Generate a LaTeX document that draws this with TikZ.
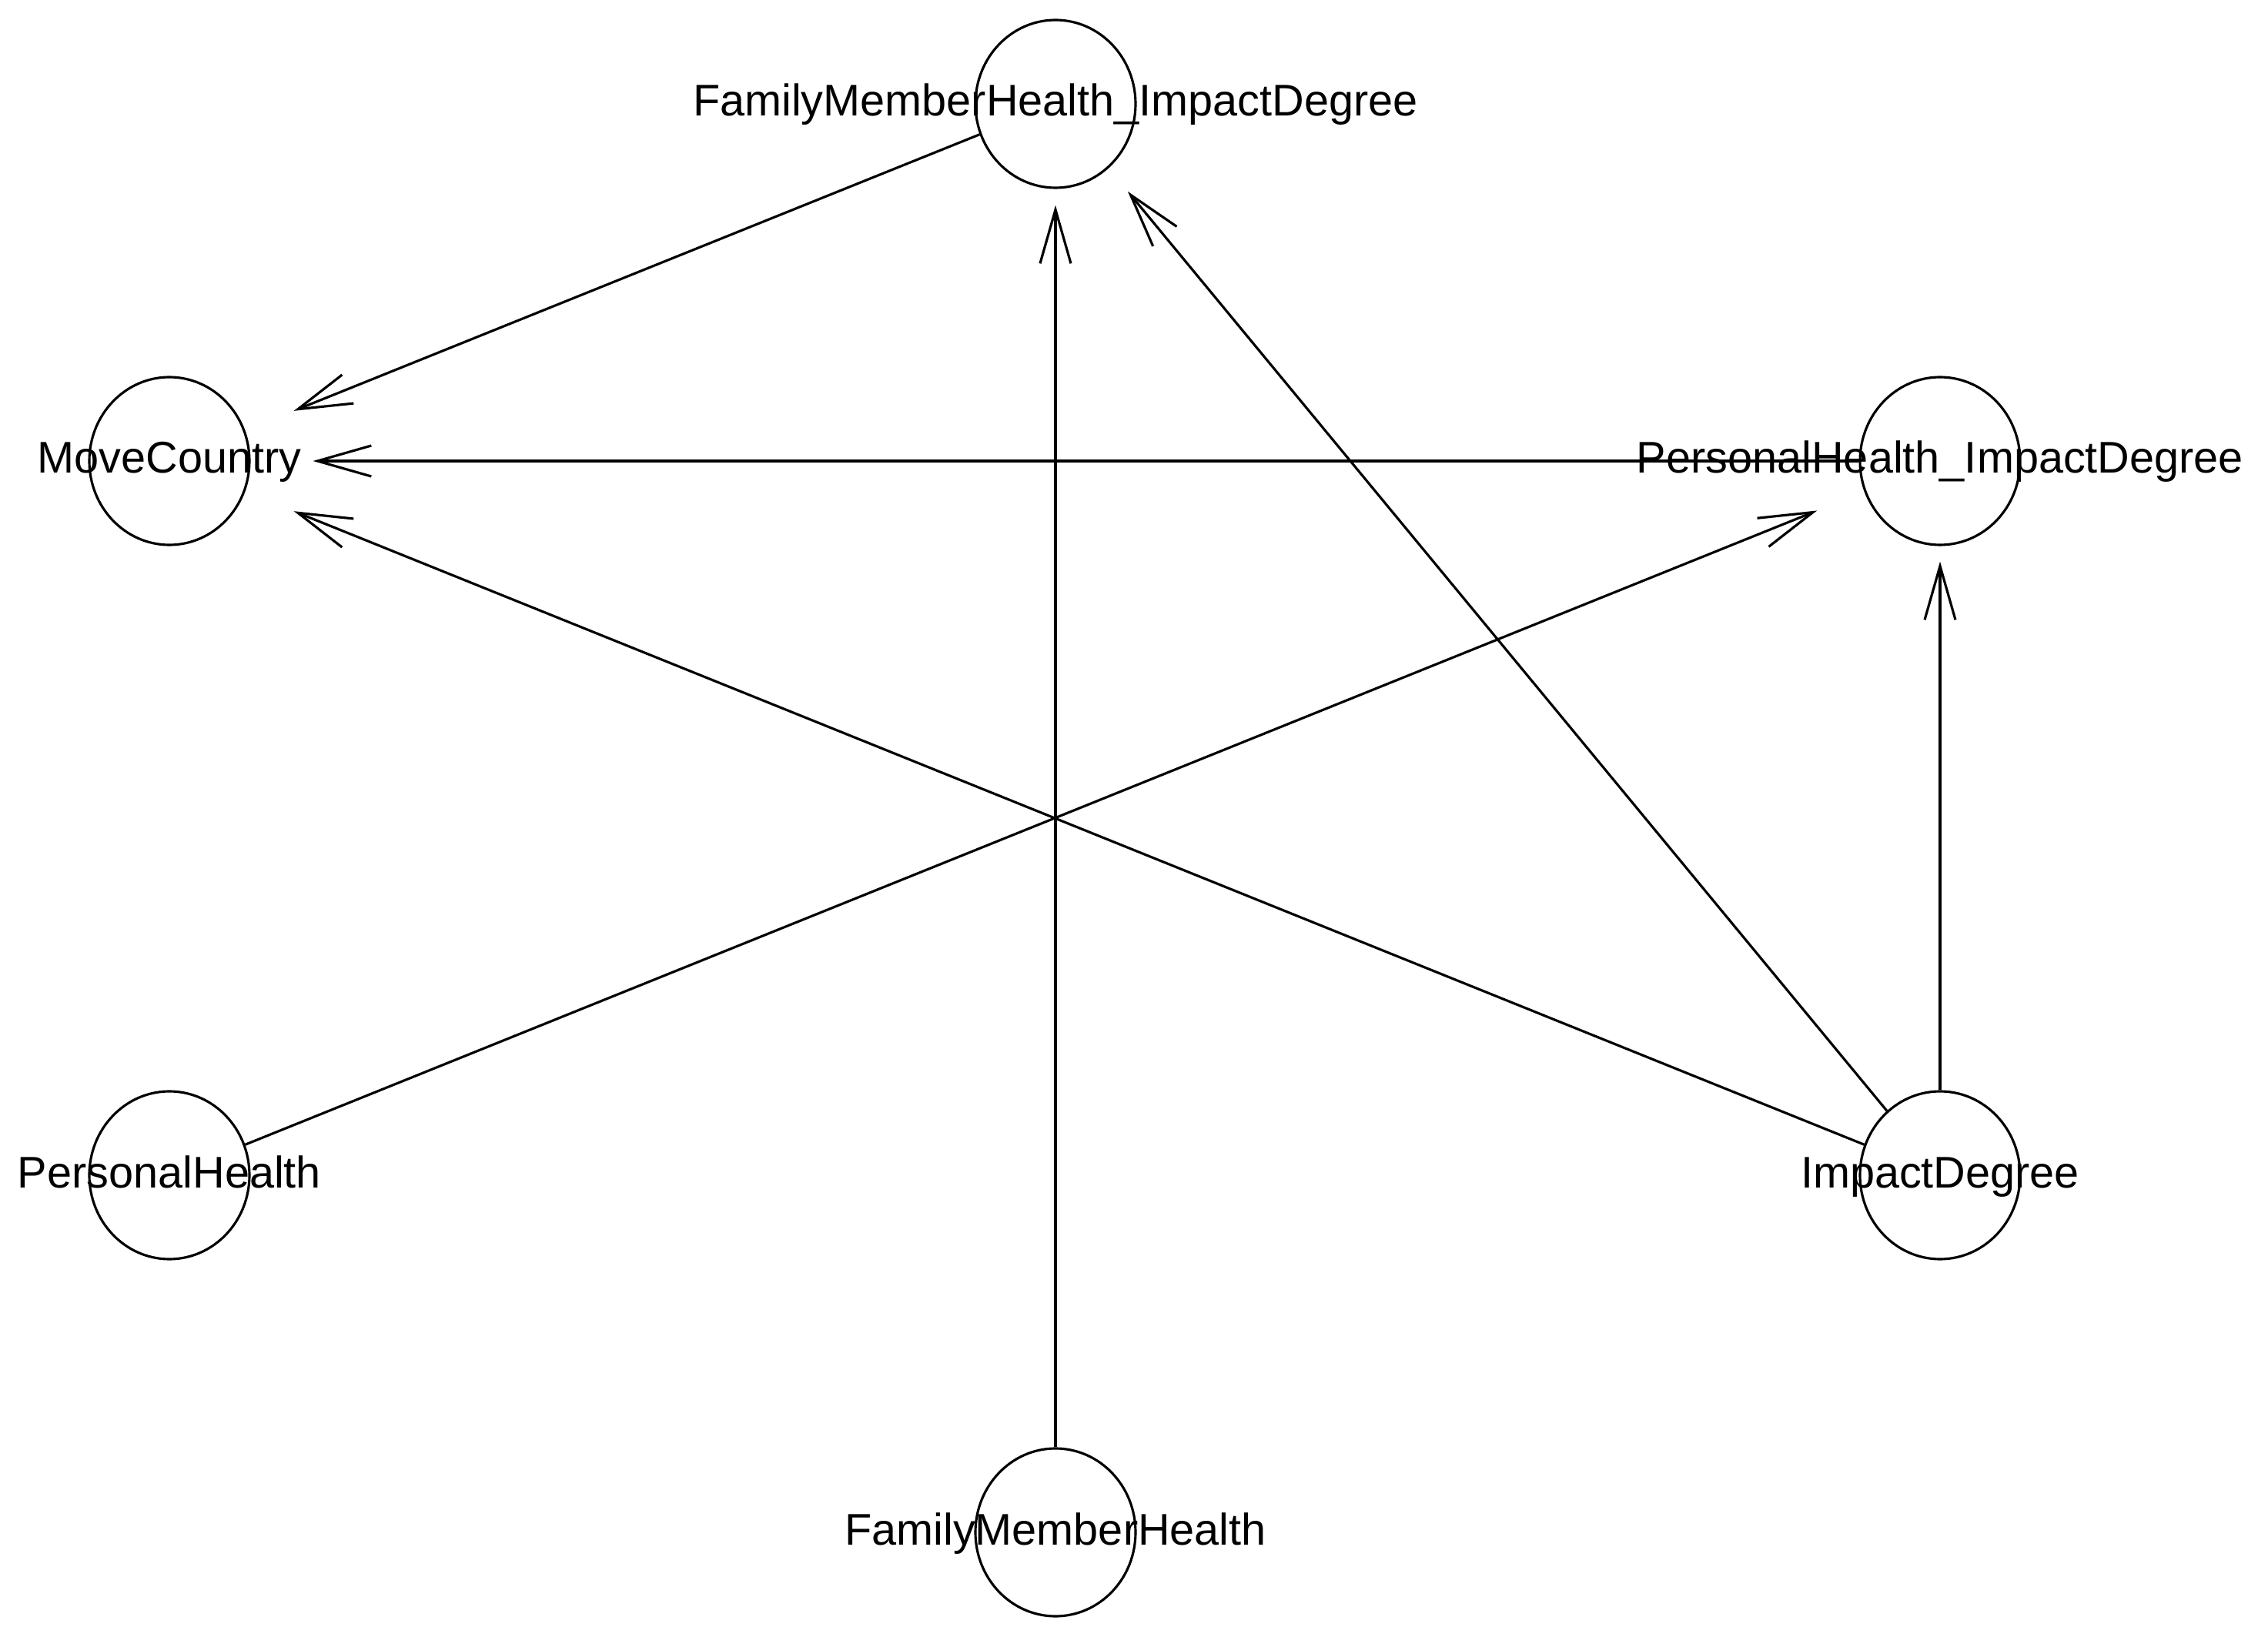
\documentclass[tikz,border=0pt]{standalone}
\usepackage{fontspec}
\setmainfont{Liberation Sans}
\usetikzlibrary{arrows.meta,shapes.geometric}

\begin{document}
\begin{tikzpicture}[>={Straight Barb[length=7mm,width=4mm]}, line width=0.9pt,
    var/.style={ellipse, draw, minimum width=2.08cm, minimum height=2.18cm, inner sep=0pt},
    lbl/.style={font=\fontsize{16.4pt}{19pt}\selectfont, text height=0.42cm, text depth=0pt, inner sep=0pt, yshift=0.05cm}]
  \useasboundingbox (0,0) rectangle (29.46,21.26);

  \node [var, label={[lbl]center:FamilyMemberHealth\_ImpactDegree}] (fmhid) at (13.71,19.91) {};
  \node [var, label={[lbl]center:MoveCountry}]                      (move)  at (2.20,15.27)  {};
  \node [var, label={[lbl]center:PersonalHealth\_ImpactDegree}]     (phid)  at (25.20,15.27) {};
  \node [var, label={[lbl]center:PersonalHealth}]                   (ph)    at (2.20,5.99)   {};
  \node [var, label={[lbl]center:ImpactDegree}]                     (imp)   at (25.20,5.99)  {};
  \node [var, label={[lbl]center:FamilyMemberHealth}]               (fmh)   at (13.71,1.35)  {};

  \draw [->, shorten >=0.68cm] (fmhid) -- (move);
  \draw [->, shorten >=0.81cm] (phid)  -- (move);
  \draw [->, shorten >=0.68cm] (imp)   -- (move);
  \draw [->, shorten >=0.66cm] (ph)    -- (phid);
  \draw [->, shorten >=0.20cm] (imp)   -- (phid);
  \draw [->, shorten >=0.39cm] (imp)   -- (fmhid);
  \draw [->, shorten >=0.21cm] (fmh)   -- (fmhid);
\end{tikzpicture}
\end{document}
